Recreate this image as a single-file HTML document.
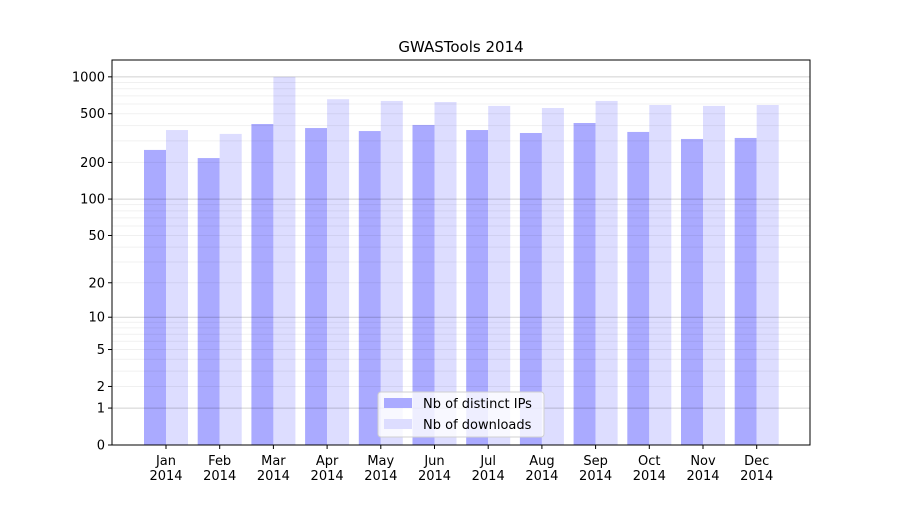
<!DOCTYPE html>
<html><head><meta charset="utf-8"><style>
body{margin:0;background:#fff;font-family:"Liberation Sans","DejaVu Sans",sans-serif;}
svg text{font-family:"DejaVu Sans","Liberation Sans",sans-serif;}
</style></head><body>
<svg id="chart" width="900" height="500" viewBox="0 0 900 500">
<rect x="0" y="0" width="900" height="500" fill="#fff"/>
<text x="461" y="52" font-size="15" text-anchor="middle">GWASTools 2014</text>
<g id="bars"></g><g id="grid"></g><g id="axes"></g>
</svg>
<script>
const months=["Jan","Feb","Mar","Apr","May","Jun","Jul","Aug","Sep","Oct","Nov","Dec"];
const distinctIPs=[253,217,412,382,361,405,368,348,420,355,311,317];
const downloads=[368,342,1000,657,636,623,579,557,636,589,579,589];
const yTicks=[0,1,2,5,10,20,50,100,200,500,1000];
const NS="http://www.w3.org/2000/svg";
const L=112,R=810,T=60,B=445;
function y(v){return B-122.7*Math.log10(1+v);}
function x(i){return 166+i*53.7;}
function mk(t,a,p){const e=document.createElementNS(NS,t);for(const k in a)e.setAttribute(k,a[k]);p.appendChild(e);return e;}
const grid=document.getElementById('grid'),bars=document.getElementById('bars'),axes=document.getElementById('axes');
for(const d of [1,10,100]){for(let m=1;m<10;m++){const v=d*m;const l=mk('line',{x1:L,x2:R,y1:y(v),y2:y(v),stroke:m==1?'#000':'#000','stroke-opacity':m==1?0.18:0.06,'stroke-width':1},grid);

}}
const gl=mk('line',{x1:L,x2:R,y1:y(1000),y2:y(1000),stroke:'#000','stroke-opacity':0.18},grid);


months.forEach((m,i)=>{
 const b1=mk('rect',{x:x(i)-22,y:y(distinctIPs[i]),width:22,height:B-y(distinctIPs[i]),fill:'#aaaaff'},bars);
 
 
 const b2=mk('rect',{x:x(i),y:y(downloads[i]),width:22,height:B-y(downloads[i]),fill:'#ddddff'},bars);
 
 
 mk('line',{x1:x(i),x2:x(i),y1:B,y2:B+4,stroke:'#000'},axes);
 const t=mk('text',{x:x(i),y:B+20,'font-size':13,'text-anchor':'middle'},axes);
 
 
 mk('tspan',{x:x(i)},t).textContent=m;
 mk('tspan',{x:x(i),dy:15},t).textContent='2014';
});
yTicks.forEach(v=>{
 mk('line',{x1:L-4,x2:L,y1:y(v),y2:y(v),stroke:'#000'},axes);
 const t=mk('text',{x:L-7,y:y(v)+4.5,'font-size':13,'text-anchor':'end'},axes);
 
 
 t.textContent=v;
});
mk('rect',{x:L,y:T,width:R-L,height:B-T,fill:'none',stroke:'#000'},axes);
const lg=mk('g',{},axes);


mk('rect',{x:378,y:392,width:166,height:45,fill:'#fff','fill-opacity':0.8,stroke:'#d0d0d0',rx:3},lg);
mk('rect',{x:384,y:398,width:28,height:10,fill:'#aaaaff'},lg);
mk('text',{x:423,y:408,'font-size':13},lg).textContent='Nb of distinct IPs';
mk('rect',{x:384,y:419,width:28,height:10,fill:'#ddddff'},lg);
mk('text',{x:423,y:429,'font-size':13},lg).textContent='Nb of downloads';
</script>
</body></html>
